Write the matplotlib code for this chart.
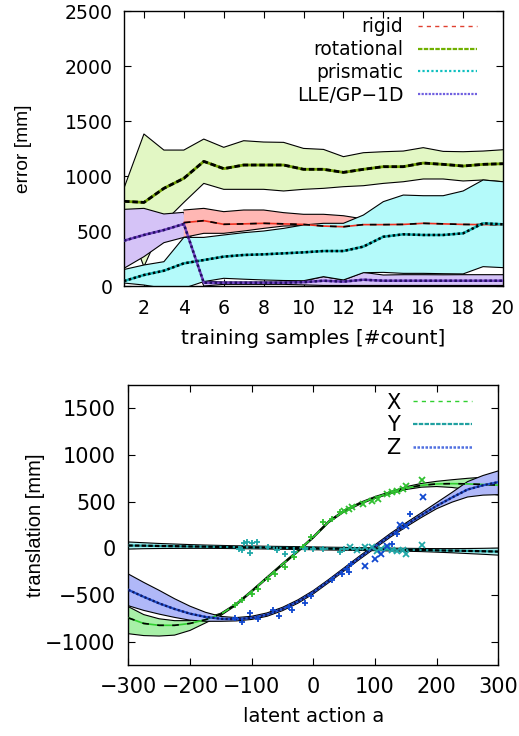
import numpy as np
import matplotlib
matplotlib.use("Agg")
import matplotlib.pyplot as plt
from matplotlib.lines import Line2D

plt.rcParams["font.family"] = ["DejaVu Sans"]
plt.rcParams["font.size"] = 13

# ---------------- top panel: error vs training samples ----------------
samples = list(range(1, 21))

rot_mean = [770, 760, 888, 979, 1133, 1067, 1100, 1100, 1100, 1061,
            1061, 1033, 1061, 1085, 1085, 1118, 1106, 1091, 1106, 1112]
rot_upper = [890, 1382, 1236, 1236, 1336, 1261, 1321, 1309, 1306, 1251,
             1242, 1176, 1212, 1221, 1227, 1258, 1224, 1221, 1227, 1239]
rot_lower = [650, 176, 580, 760, 933, 879, 879, 879, 864, 879,
             888, 903, 912, 933, 948, 973, 973, 955, 964, 948]

lle_mean = [412, 464, 509, 564, 30, 30, 30, 30, 30, 35,
            48, 40, 57, 48, 48, 48, 48, 48, 48, 48]
lle_upper = [697, 706, 655, 670, 45, 36, 36, 36, 36, 45,
             85, 54, 124, 100, 103, 103, 102, 103, 103, 103]
lle_lower = [161, 267, 394, 442, 0, 15, 15, 15, 15, 10,
             5, 5, 5, 5, 5, 5, 5, 5, 5, 5]

# rigid starts at 4 samples
rig_x = list(range(4, 21))
rig_mean = [576, 594, 561, 565, 570, 565, 560,
            545, 539, 558, 558, 560, 570, 565, 560, 558, 558]
rig_upper = [691, 706, 676, 691, 691, 667, 652,
             652, 639, 610, 600, 600, 600, 600, 595, 585, 580]
rig_lower = [442, 479, 479, 500, 524, 545, 550,
             540, 530, 530, 530, 535, 540, 540, 540, 540, 540]

pri_mean = [45, 100, 139, 206, 236, 267, 282, 288, 297, 306,
            318, 318, 358, 448, 470, 464, 464, 479, 570, 561]
pri_upper = [150, 191, 221, 442, 442, 464, 485, 500, 524, 555,
             570, 570, 645, 767, 827, 821, 821, 864, 964, 948]
pri_lower = [27, 9, -20, -20, 40, 70, 62, 55, 50, 48,
             85, 55, 121, 124, 115, 115, 112, 110, 176, 167]

# ---------------- bottom panel: translation vs latent action ----------------
a_grid = list(range(-300, 301, 25))

x_mean = [-745, -805, -825, -825, -805, -765, -705, -600, -460, -315, -170, -30, 120,
          285, 400, 480, 545, 595, 645, 675, 690, 693, 690, 684, 677]
x_upper = [-625, -710, -755, -775, -775, -750, -695, -590, -450, -305, -160, -20, 130,
           295, 410, 490, 555, 607, 660, 695, 718, 735, 750, 762, 775]
x_lower = [-915, -935, -940, -930, -880, -800, -720, -610, -470, -325, -180, -40, 110,
           275, 390, 470, 535, 585, 630, 655, 662, 652, 630, 600, 570]

y_mean = [30, 28, 25, 23, 20, 18, 15, 12, 10, 8, 5, 3, 0,
          -3, -5, -8, -10, -13, -15, -18, -22, -25, -28, -31, -35]
y_upper = [68, 60, 52, 46, 40, 35, 31, 27, 25, 22, 20, 18, 15,
           12, 10, 7, 5, 2, 0, -2, -3, -3, -2, 0, 3]
y_lower = [-8, -4, -2, -1, 0, 0, -1, -3, -5, -7, -10, -12, -15,
           -18, -20, -23, -25, -28, -31, -35, -41, -48, -56, -64, -73]

z_mean = [-445, -520, -590, -650, -700, -735, -755, -760, -745, -710, -650, -570, -470,
          -350, -225, -100, 20, 140, 250, 355, 455, 545, 630, 675, 710]
z_upper = [-275, -365, -450, -540, -620, -685, -730, -742, -728, -692, -632, -552, -452,
           -333, -208, -82, 38, 160, 272, 380, 490, 600, 715, 780, 830]
z_lower = [-615, -665, -705, -740, -770, -782, -782, -778, -762, -728, -668, -588, -488,
           -367, -242, -118, 2, 120, 228, 330, 425, 495, 550, 570, 575]

# observed samples ('+' train, 'x' test)
x_pts_a = [-127, -116, -100, -89, -73, -62, -46, -32, -16, -3, 16, 30, 43]
x_pts_v = [-612, -559, -487, -434, -327, -274, -196, -96, 18, 118, 278, 314, 385]
x_tst_a = [50, 57, 62, 80, 95, 105, 119, 128, 135, 145, 151, 176]
x_tst_v = [405, 420, 440, 470, 510, 530, 581, 600, 616, 640, 670, 731]

y_pts_a = [-121, -116, -113, -108, -103, -100, -92, -73, -59, -46, -32, -13, 0, 16, 43, 49]
y_pts_v = [-10, -18, 53, 65, -53, 58, 70, 10, -15, -60, -40, -5, -5, -5, -35, -5]
y_tst_a = [60, 70, 84, 95, 103, 110, 119, 127, 135, 145, 151, 176]
y_tst_v = [12, -20, 19, 12, -24, -10, 5, -15, -24, -20, -60, 36]

z_pts_a = [-127, -116, -103, -89, -65, -56, -40, -35, -13, -3, 30, 46, 54, 57, 61, 127, 135, 157]
z_pts_v = [-744, -790, -695, -755, -666, -720, -630, -666, -584, -506, -338, -274, -220, -256, -167, 46, 154, 367]
z_tst_a = [83, 100, 110, 119, 140, 151, 177]
z_tst_v = [-185, -114, -60, 28, 254, 242, 545]


def gp_style(ax, size, xpad, ypad):
    ax.tick_params(direction="in", top=True, right=True, length=5, width=0.8, labelsize=size)
    ax.tick_params(axis="x", pad=xpad)
    ax.tick_params(axis="y", pad=ypad)
    for s in ax.spines.values():
        s.set_linewidth(1.0)


fig = plt.figure(figsize=(5.19, 7.36), dpi=100)

# ---- top ----
ax1 = fig.add_axes([0.2389, 0.6114, 0.7303, 0.3736])

bands = [
    (samples, rot_lower, rot_upper, "#e2f7c4"),
    (samples, lle_lower, lle_upper, "#d5c3f7"),
    (rig_x, rig_lower, rig_upper, "#ffb7b4"),
    (samples, pri_lower, pri_upper, "#b4fafa"),
]
for xs, lo, hi, fc in bands:
    ax1.fill_between(xs, lo, hi, facecolor=fc, edgecolor="none", zorder=2)
    ax1.plot(xs, lo, color="k", lw=0.8, zorder=2)
    ax1.plot(xs, hi, color="k", lw=0.8, zorder=2)

ax1.plot(rig_x, rig_mean, color="#f03020", lw=1.2, zorder=3)
ax1.plot(rig_x, rig_mean, color="k", lw=1.2, ls=(0, (4, 4)), zorder=3)
ax1.plot(samples, rot_mean, color="#70a000", lw=2.0, zorder=3)
ax1.plot(samples, rot_mean, color="k", lw=2.0, ls=(0, (2, 1)), zorder=3)
ax1.plot(samples, pri_mean, color="#10b0b0", lw=1.8, zorder=3)
ax1.plot(samples, pri_mean, color="k", lw=1.8, ls=(0, (1, 1)), zorder=3)
ax1.plot(samples, lle_mean, color="#7040c0", lw=1.8, zorder=3)
ax1.plot(samples, lle_mean, color="#201060", lw=1.8, ls=(0, (1, 1)), zorder=3)

ax1.set_xlim(1, 20)
ax1.set_ylim(0, 2500)
ax1.set_xticks(range(2, 21, 2))
ax1.set_yticks(range(0, 2501, 500))
ax1.set_xlabel("training samples [#count]", fontsize=14.5)
ax1.set_ylabel("error [mm]", fontsize=13.8, family="Liberation Sans")
ax1.xaxis.set_label_coords(0.5, -0.155)
ax1.yaxis.set_label_coords(-0.243, 0.5)
gp_style(ax1, 13.6, 9, 8)

h1 = [Line2D([], [], color="#e04030", lw=1.0, ls=(0, (3, 3))),
      Line2D([], [], color="#70b000", lw=1.6, ls=(0, (2, 0.6))),
      Line2D([], [], color="#10c0c0", lw=1.6, ls=(0, (1, 1))),
      Line2D([], [], color="#7060e0", lw=1.6, ls=(0, (1, 0.6)))]
ax1.legend(h1, ["rigid", "rotational", "prismatic", "LLE/GP\u22121D"], loc="upper right",
           bbox_to_anchor=(0.931, 0.977), markerfirst=False, frameon=False, fontsize=13.4,
           handlelength=3.15, handletextpad=0.8, labelspacing=0.2,
           borderaxespad=0, borderpad=0)

# ---- bottom ----
ax2 = fig.add_axes([0.2472, 0.0965, 0.7131, 0.3804])

for lo, hi, fc in [(x_lower, x_upper, "#a8f0a8"), (z_lower, z_upper, "#b0b8f8"),
                   (y_lower, y_upper, "#a8f0f0")]:
    ax2.fill_between(a_grid, lo, hi, facecolor=fc, edgecolor="none", zorder=2)
    ax2.plot(a_grid, lo, color="k", lw=0.8, zorder=2)
    ax2.plot(a_grid, hi, color="k", lw=0.8, zorder=2)

ax2.plot(a_grid, x_mean, color="#30d030", lw=1.2, zorder=3)
ax2.plot(a_grid, x_mean, color="k", lw=1.2, ls=(0, (4, 5)), zorder=3)
ax2.plot(a_grid, y_mean, color="#20a0a0", lw=1.6, zorder=3)
ax2.plot(a_grid, y_mean, color="k", lw=1.6, ls=(0, (2, 1)), zorder=3)
ax2.plot(a_grid, z_mean, color="#2050d0", lw=1.6, zorder=3)
ax2.plot(a_grid, z_mean, color="#101860", lw=1.6, ls=(0, (1, 1)), zorder=3)

ms = 5
ax2.plot(x_pts_a, x_pts_v, "+", color="#30c030", ms=ms, mew=1.3, zorder=4)
ax2.plot(x_tst_a, x_tst_v, "x", color="#30c030", ms=ms - 1, mew=1.3, zorder=4)
ax2.plot(y_pts_a, y_pts_v, "+", color="#20a8a8", ms=ms, mew=1.3, zorder=4)
ax2.plot(y_tst_a, y_tst_v, "x", color="#20a8a8", ms=ms - 1, mew=1.3, zorder=4)
ax2.plot(z_pts_a, z_pts_v, "+", color="#1048d0", ms=ms, mew=1.3, zorder=4)
ax2.plot(z_tst_a, z_tst_v, "x", color="#1048d0", ms=ms - 1, mew=1.3, zorder=4)

ax2.set_xlim(-300, 300)
ax2.set_ylim(-1250, 1750)
ax2.set_xticks(range(-300, 301, 100))
ax2.set_yticks(range(-1000, 1501, 500))
ax2.set_xlabel("latent action a", fontsize=14)
ax2.set_ylabel("translation [mm]", fontsize=14.5, family="Liberation Sans")
ax2.xaxis.set_label_coords(0.5, -0.15)
ax2.yaxis.set_label_coords(-0.225, 0.5)
gp_style(ax2, 15, 9, 9)

h2 = [Line2D([], [], color="#30d030", lw=1.0, ls=(0, (3, 3))),
      Line2D([], [], color="#20a0a0", lw=1.6, ls=(0, (2, 0.6))),
      Line2D([], [], color="#5070e0", lw=1.8, ls=(0, (1, 0.6)))]
ax2.legend(h2, ["X", "Y", "Z"], loc="upper right", bbox_to_anchor=(0.929, 0.973),
           markerfirst=False, frameon=False, fontsize=15, handlelength=2.85,
           handletextpad=0.6, labelspacing=0.14, borderaxespad=0, borderpad=0)

fig.savefig("out.png", dpi=100)
